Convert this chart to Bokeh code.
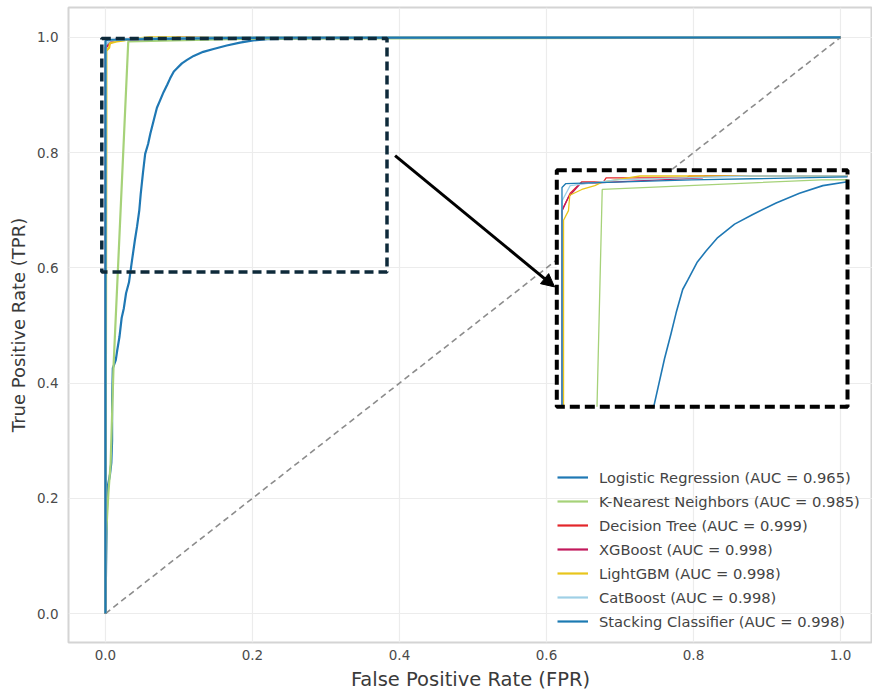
from bokeh.plotting import figure
from bokeh.models import Range1d, FixedTicker, Legend, LegendItem, Arrow, NormalHead, PrintfTickFormatter
from bokeh.embed import file_html
from bokeh.resources import INLINE

# ---------------- data ----------------
model_names = ["Logistic Regression", "K-Nearest Neighbors", "Decision Tree",
               "XGBoost", "LightGBM", "CatBoost", "Stacking Classifier"]
auc_values = [0.965, 0.985, 0.999, 0.998, 0.998, 0.998, 0.998]

lr_fpr = [0.000, 0.001, 0.002, 0.003, 0.006, 0.008, 0.009, 0.009, 0.010, 0.014, 0.016, 0.019,
          0.022, 0.025, 0.028, 0.032, 0.036, 0.040, 0.043, 0.046, 0.048, 0.051, 0.054, 0.058,
          0.061, 0.066, 0.070, 0.074, 0.079, 0.084, 0.088, 0.093, 0.097, 0.104, 0.111, 0.120,
          0.133, 0.147, 0.165, 0.183, 0.201, 0.220, 0.260, 0.300, 0.400, 1.000]
lr_tpr = [0.000, 0.100, 0.180, 0.220, 0.240, 0.262, 0.300, 0.370, 0.426, 0.440, 0.457, 0.480,
          0.513, 0.530, 0.556, 0.575, 0.612, 0.648, 0.672, 0.700, 0.729, 0.765, 0.798, 0.815,
          0.833, 0.858, 0.878, 0.890, 0.905, 0.918, 0.929, 0.941, 0.946, 0.955, 0.961, 0.968,
          0.975, 0.980, 0.986, 0.991, 0.995, 0.997, 0.998, 0.999, 1.000, 1.000]

knn_fpr = [0.000, 0.001, 0.004, 0.007, 0.011, 0.031, 0.200, 1.000]
knn_tpr = [0.000, 0.140, 0.210, 0.260, 0.430, 0.993, 0.998, 1.000]

dt_fpr = [0.000, 0.000, 0.000, 0.0063, 0.0153, 0.032, 0.034, 0.096, 0.098, 1.000]
dt_tpr = [0.000, 0.960, 0.982, 0.991, 0.997, 0.997, 0.999, 0.999, 1.000, 1.000]

xgb_fpr = [0.000, 0.000, 0.005, 0.014, 0.108, 0.110, 1.000]
xgb_tpr = [0.000, 0.982, 0.989, 0.996, 0.999, 1.000, 1.000]

lgbm_fpr = [0.000, 0.0012, 0.0012, 0.005, 0.006, 0.0153, 0.0253, 0.0318, 0.060, 1.000]
lgbm_tpr = [0.000, 0.850, 0.977, 0.982, 0.990, 0.993, 0.995, 0.997, 1.000, 1.000]

cat_fpr = [0.000, 0.000, 0.0063, 0.042, 0.1445, 1.000]
cat_tpr = [0.000, 0.987, 0.995, 0.998, 1.000, 1.000]

stk_fpr = [0.000, 0.000, 0.0028, 0.100, 0.220, 1.000]
stk_tpr = [0.000, 0.994, 0.996, 0.998, 0.9995, 1.000]

tick_values = [0.0, 0.2, 0.4, 0.6, 0.8, 1.0]

# ---------------- styles / layout ----------------
colors = ["#1f78b4", "#a6d279", "#e3262a", "#c2185b", "#e8c51b", "#9fd0e6", "#1b7ab2"]
FONT = "DejaVu Sans"

# region shown enlarged in the inset (data units) and where the inset sits (data units)
inset_src = (-0.004, 0.22, 0.88, 1.003)
inset_dst = (0.614, 1.0095, 0.3588, 0.7695)
zoom_box = (-0.005, 0.383, 0.593, 0.998)
arrow_pts = (0.394, 0.795, 0.611, 0.567)

series = [(lr_fpr, lr_tpr), (knn_fpr, knn_tpr), (dt_fpr, dt_tpr), (xgb_fpr, xgb_tpr),
          (lgbm_fpr, lgbm_tpr), (cat_fpr, cat_tpr), (stk_fpr, stk_tpr)]

p = figure(width=872, height=693, output_backend="svg", toolbar_location=None,
           x_range=Range1d(-0.0503, 1.0435), y_range=Range1d(-0.0503, 1.052),
           min_border_left=68, min_border_right=0, min_border_top=7, min_border_bottom=50)
p.outline_line_color = "#d4d4d4"
p.outline_line_width = 2
p.background_fill_color = "white"
p.border_fill_color = "white"

for ax in (p.xaxis, p.yaxis):
    ax.ticker = FixedTicker(ticks=tick_values)
    ax.formatter = PrintfTickFormatter(format="%.1f")
    ax.axis_line_color = None
    ax.major_tick_line_color = None
    ax.minor_tick_line_color = None
    ax.major_tick_out = 0
    ax.major_tick_in = 0
    ax.major_label_text_font = FONT
    ax.major_label_text_font_size = "13.5px"
    ax.major_label_text_color = "#4a4a4a"
    ax.axis_label_text_font = FONT
    ax.axis_label_text_font_style = "normal"
    ax.axis_label_text_color = "#3a3a3a"

p.xaxis.axis_label = "False Positive Rate (FPR)"
p.yaxis.axis_label = "True Positive Rate (TPR)"
p.xaxis.axis_label_text_font_size = "19.5px"
p.yaxis.axis_label_text_font_size = "18px"
p.xaxis.major_label_standoff = 7
p.xaxis.axis_label_standoff = 5
p.yaxis.major_label_standoff = 10
p.yaxis.axis_label_standoff = 5

for g in (p.xgrid, p.ygrid):
    g.ticker = FixedTicker(ticks=tick_values)
    g.grid_line_color = "#ececec"
    g.grid_line_width = 1.2

# chance diagonal
p.line([0, 1], [0, 1], line_color="#8c8c8c", line_width=1.6, line_dash="6 4")

# main curves
renderers = []
for (fx, fy), c in zip(series, colors):
    r = p.line(fx, fy, line_color=c, line_width=2.2)
    renderers.append(r)

# zoom rectangle
p.quad(left=[zoom_box[0]], right=[zoom_box[1]], bottom=[zoom_box[2]], top=[zoom_box[3]],
       fill_color=None, line_color="#0e2a3a", line_width=3.5, line_dash="9 5")

# arrow
p.add_layout(Arrow(end=NormalHead(size=13, fill_color="black", line_color="black"),
                   x_start=arrow_pts[0], y_start=arrow_pts[1], x_end=arrow_pts[2], y_end=arrow_pts[3],
                   line_color="black", line_width=3))


# ---------------- inset (enlarged copy of the same curves) ----------------
def clip_segment(xa, ya, xb, yb, x0, x1, y0, y1):
    dx, dy = xb - xa, yb - ya
    t0, t1 = 0.0, 1.0
    for pp, q in ((-dx, xa - x0), (dx, x1 - xa), (-dy, ya - y0), (dy, y1 - ya)):
        if pp == 0:
            if q < 0:
                return None
        else:
            r = q / pp
            if pp < 0:
                if r > t1:
                    return None
                if r > t0:
                    t0 = r
            else:
                if r < t0:
                    return None
                if r < t1:
                    t1 = r
    return xa + t0 * dx, ya + t0 * dy, xa + t1 * dx, ya + t1 * dy


def clip_polyline(xs, ys, box):
    x0, x1, y0, y1 = box
    pieces, cur = [], None
    for i in range(len(xs) - 1):
        seg = clip_segment(xs[i], ys[i], xs[i + 1], ys[i + 1], x0, x1, y0, y1)
        if seg is None:
            cur = None
            continue
        ax_, ay_, bx_, by_ = seg
        if cur is not None and abs(cur[0][-1] - ax_) < 1e-12 and abs(cur[1][-1] - ay_) < 1e-12:
            cur[0].append(bx_)
            cur[1].append(by_)
        else:
            cur = ([ax_, bx_], [ay_, by_])
            pieces.append(cur)
    return pieces


def to_inset(xs, ys):
    sx0, sx1, sy0, sy1 = inset_src
    dx0, dx1, dy0, dy1 = inset_dst
    return ([dx0 + (x - sx0) / (sx1 - sx0) * (dx1 - dx0) for x in xs],
            [dy0 + (y - sy0) / (sy1 - sy0) * (dy1 - dy0) for y in ys])


p.quad(left=[inset_dst[0]], right=[inset_dst[1]], bottom=[inset_dst[2]], top=[inset_dst[3]],
       fill_color="white", line_color=None)

for k, ((fx, fy), c) in enumerate(zip(series, colors)):
    xs_list, ys_list = [], []
    for px_, py_ in clip_polyline(fx, fy, inset_src):
        mx, my = to_inset(px_, py_)
        xs_list.append(mx)
        ys_list.append(my)
    if xs_list:
        p.multi_line(xs_list, ys_list, line_color=c, line_width=1.6 if k == 0 else 1.3)

p.quad(left=[inset_dst[0]], right=[inset_dst[1]], bottom=[inset_dst[2]], top=[inset_dst[3]],
       fill_color=None, line_color="black", line_width=4, line_dash="10 5")

# ---------------- legend ----------------
items = [LegendItem(label=f"{n} (AUC = {a:.3f})", renderers=[r])
         for n, a, r in zip(model_names, auc_values, renderers)]
legend = Legend(items=items, location=(489, 11), padding=0, margin=0, spacing=4,
                glyph_width=31, glyph_height=20, label_height=20, label_standoff=11,
                label_text_font=FONT, label_text_font_size="14.7px", label_text_color="#444444",
                background_fill_alpha=0, border_line_alpha=0)
p.add_layout(legend)

open("out.html", "w").write(file_html(p, INLINE))
